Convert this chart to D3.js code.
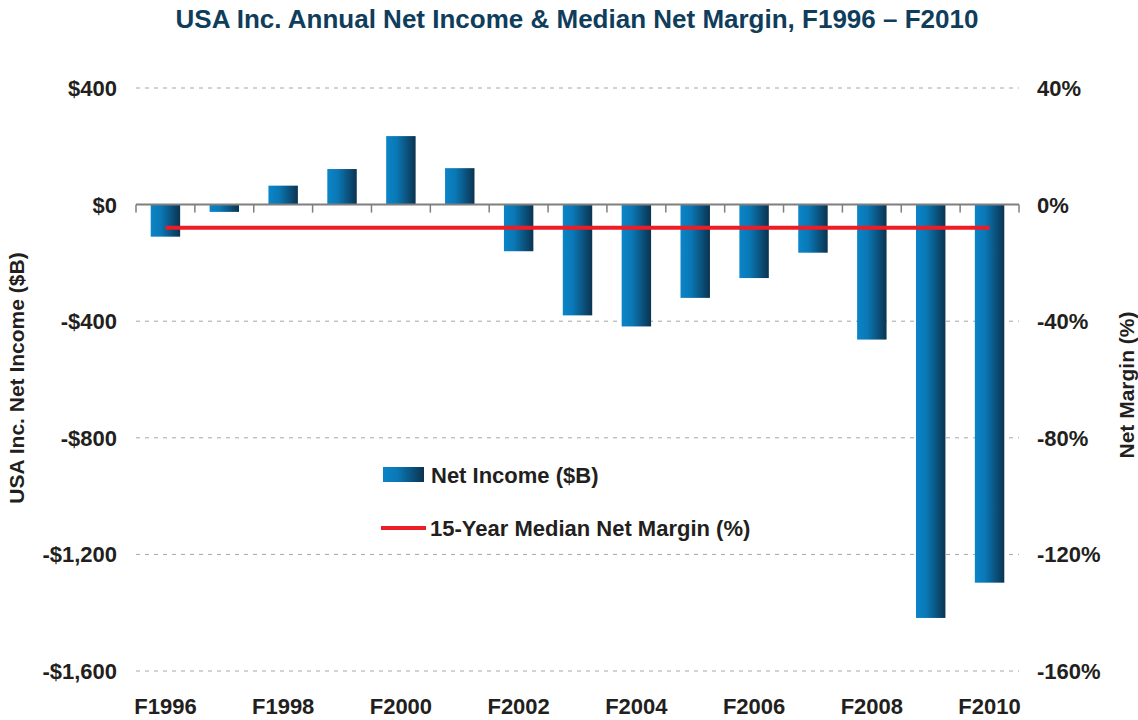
<!DOCTYPE html>
<html>
<head>
<meta charset="utf-8">
<script src="https://cdn.jsdelivr.net/npm/d3@7"></script>
<style>
body { margin: 0; background: #fff; }
text { font-family: "Liberation Sans", Arial, sans-serif; font-weight: bold; fill: #231f20; }
</style>
</head>
<body>
<div id="chart"></div>
<script>
var years = ["F1996","F1997","F1998","F1999","F2000","F2001","F2002","F2003","F2004","F2005","F2006","F2007","F2008","F2009","F2010"];
var netIncome = [-110, -25, 65, 122, 235, 125, -160, -380, -418, -320, -252, -165, -463, -1418, -1297];
var medianMargin = -7.9;
var leftTicks = [400, 0, -400, -800, -1200, -1600];
var rightTicks = [40, 0, -40, -80, -120, -160];
var xLabels = ["F1996","F1998","F2000","F2002","F2004","F2006","F2008","F2010"];

var W = 1138, H = 720;
var margin = {top: 88, right: 119, bottom: 49, left: 136},
    width = W - margin.left - margin.right,
    height = H - margin.top - margin.bottom;

var svg = d3.select("#chart").append("svg")
    .attr("width", W).attr("height", H);

var defs = svg.append("defs");
var grad = defs.append("linearGradient").attr("id", "barGrad")
    .attr("x1", "0%").attr("x2", "100%").attr("y1", "0%").attr("y2", "0%");
grad.append("stop").attr("offset", "0%").attr("stop-color", "#0a85c9");
grad.append("stop").attr("offset", "35%").attr("stop-color", "#0a78b5");
grad.append("stop").attr("offset", "100%").attr("stop-color", "#0b3350");

svg.append("text")
    .attr("x", 577).attr("y", 28)
    .attr("text-anchor", "middle")
    .style("font-family", "'Liberation Sans Narrow', 'Arial Narrow', sans-serif")
    .style("font-size", "26px")
    .style("fill", "#0f3d5c")
    .text("USA Inc. Annual Net Income & Median Net Margin, F1996 \u2013 F2010");

var g = svg.append("g").attr("transform", "translate(" + margin.left + "," + margin.top + ")");

var x = d3.scaleBand().domain(years).range([0, width]).paddingInner(0.5).paddingOuter(0.25);
var y = d3.scaleLinear().domain([-1600, 400]).range([height, 0]);
var y2 = d3.scaleLinear().domain([-160, 40]).range([height, 0]);

// gridlines
g.selectAll(".grid").data(leftTicks.filter(function(d){ return d !== 0; }))
  .enter().append("line")
  .attr("x1", 0).attr("x2", width)
  .attr("y1", function(d){ return y(d); }).attr("y2", function(d){ return y(d); })
  .attr("stroke", "#a6a6a6").attr("stroke-width", 1)
  .attr("stroke-dasharray", "4,5");

// left tick labels
g.selectAll(".lt").data(leftTicks).enter().append("text")
  .attr("x", -19).attr("y", function(d){ return y(d); })
  .attr("dy", "0.36em").attr("text-anchor", "end")
  .style("font-size", "22px")
  .text(function(d){ return (d < 0 ? "-$" : "$") + d3.format(",")(Math.abs(d)); });

// right tick labels
g.selectAll(".rt").data(rightTicks).enter().append("text")
  .attr("x", width + 18).attr("y", function(d){ return y2(d); })
  .attr("dy", "0.36em").attr("text-anchor", "start")
  .style("font-size", "22px")
  .text(function(d){ return d + "%"; });

// bars
g.selectAll(".bar").data(netIncome).enter().append("rect")
  .attr("x", function(d, i){ return x(years[i]); })
  .attr("width", x.bandwidth())
  .attr("y", function(d){ return y(Math.max(0, d)); })
  .attr("height", function(d){ return Math.abs(y(d) - y(0)); })
  .attr("fill", "url(#barGrad)");

// zero axis with ticks
var step = x.step();
g.append("line").attr("x1", 0).attr("x2", width)
  .attr("y1", y(0)).attr("y2", y(0))
  .attr("stroke", "#7f7f7f").attr("stroke-width", 2);
g.selectAll(".tk").data(d3.range(years.length + 1)).enter().append("line")
  .attr("x1", function(d){ return d * step; }).attr("x2", function(d){ return d * step; })
  .attr("y1", y(0)).attr("y2", y(0) + 8)
  .attr("stroke", "#7f7f7f").attr("stroke-width", 1.5);

// median margin line
var line = d3.line()
  .x(function(d){ return x(d) + x.bandwidth() / 2; })
  .y(function(){ return y2(medianMargin); });
g.append("path").datum([years[0], years[years.length - 1]])
  .attr("d", line)
  .attr("stroke", "#ee1c25").attr("stroke-width", 4).attr("fill", "none");

// x labels
g.selectAll(".xl").data(xLabels).enter().append("text")
  .attr("x", function(d){ return x(d) + x.bandwidth() / 2; })
  .attr("y", height + 43)
  .attr("text-anchor", "middle")
  .style("font-size", "22px")
  .text(function(d){ return d; });

// axis titles
svg.append("text")
  .attr("transform", "translate(24,378) rotate(-90)")
  .attr("text-anchor", "middle")
  .style("font-size", "21px")
  .text("USA Inc. Net Income ($B)");
svg.append("text")
  .attr("transform", "translate(1134,385) rotate(-90)")
  .attr("text-anchor", "middle")
  .style("font-size", "21px")
  .text("Net Margin (%)");

// legend
var lg = svg.append("g");
lg.append("rect").attr("x", 383).attr("y", 467).attr("width", 41).attr("height", 15)
  .attr("fill", "url(#barGrad)");
lg.append("text").attr("x", 431).attr("y", 475).attr("dy", "0.36em")
  .style("font-size", "22px").text("Net Income ($B)");
lg.append("line").attr("x1", 381).attr("x2", 426).attr("y1", 528).attr("y2", 528)
  .attr("stroke", "#ee1c25").attr("stroke-width", 4);
lg.append("text").attr("x", 430).attr("y", 528).attr("dy", "0.36em")
  .style("font-size", "22px").text("15-Year Median Net Margin (%)");
</script>
</body>
</html>
